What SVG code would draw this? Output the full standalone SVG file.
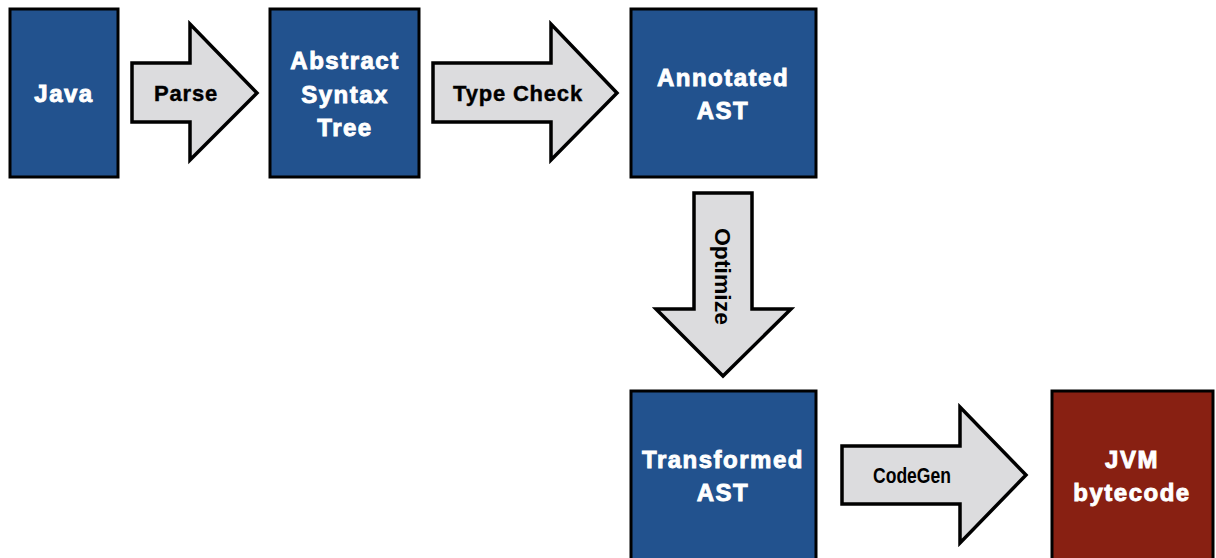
<svg xmlns="http://www.w3.org/2000/svg" width="1216" height="558" viewBox="0 0 1216 558">
<style>
.box{stroke:#000;stroke-width:3}
.blue{fill:#22528e}
.red{fill:#882012}
.arr{fill:#dcdcde;stroke:#000;stroke-width:3.5;stroke-linejoin:miter}
.nt{font-family:"Liberation Sans",Arial,sans-serif;font-weight:bold;font-size:24px;fill:#fff;stroke:#fff;stroke-width:0.9;letter-spacing:1.5px;text-anchor:middle}
.at{font-family:"Liberation Sans",Arial,sans-serif;font-weight:bold;font-size:22px;fill:#000;stroke:#000;stroke-width:0.4;letter-spacing:0.8px;text-anchor:middle}
.at2{font-family:"Liberation Sans",Arial,sans-serif;font-weight:bold;font-size:22px;fill:#000;text-anchor:middle}
</style>
<rect width="1216" height="558" fill="#fff"/>
<g id="connectors">
<g id="parse"><polygon class="arr" points="132,63 190,63 190,24 257,93 190,160 190,122 132,122"/><text class="at" x="186" y="101">Parse</text></g>
<g id="typecheck"><polygon class="arr" points="433,63 551,63 551,24 617,93 551,160 551,122 433,122"/><text class="at" x="518" y="101">Type Check</text></g>
<g id="optimize"><polygon class="arr" points="694,193 752,193 752,309 791,309 723,376 656,309 694,309"/><text class="at2" transform="translate(715,228) rotate(90)" x="0" y="0" style="text-anchor:start" textLength="97" lengthAdjust="spacingAndGlyphs">Optimize</text></g>
<g id="codegen"><polygon class="arr" points="842,446 960,446 960,407 1026,475 960,543 960,504 842,504"/><text class="at2" x="873" y="483" style="text-anchor:start" textLength="78" lengthAdjust="spacingAndGlyphs">CodeGen</text></g>
</g>
<g id="java"><rect class="box blue" x="10" y="9" width="108" height="168"/><text class="nt" x="64" y="102">Java</text></g>
<g id="ast"><rect class="box blue" x="270" y="9" width="149" height="168"/><text class="nt" x="345" y="69">Abstract</text><text class="nt" x="345" y="103">Syntax</text><text class="nt" x="345" y="136">Tree</text></g>
<g id="annotated"><rect class="box blue" x="631" y="9" width="185" height="168"/><text class="nt" x="723" y="86">Annotated</text><text class="nt" x="723" y="119">AST</text></g>
<g id="transformed"><rect class="box blue" x="631" y="391" width="185" height="172"/><text class="nt" x="723" y="468">Transformed</text><text class="nt" x="723" y="501">AST</text></g>
<g id="jvm"><rect class="box red" x="1052" y="391" width="161" height="172"/><text class="nt" x="1132" y="468">JVM</text><text class="nt" x="1132" y="501">bytecode</text></g>
</svg>
